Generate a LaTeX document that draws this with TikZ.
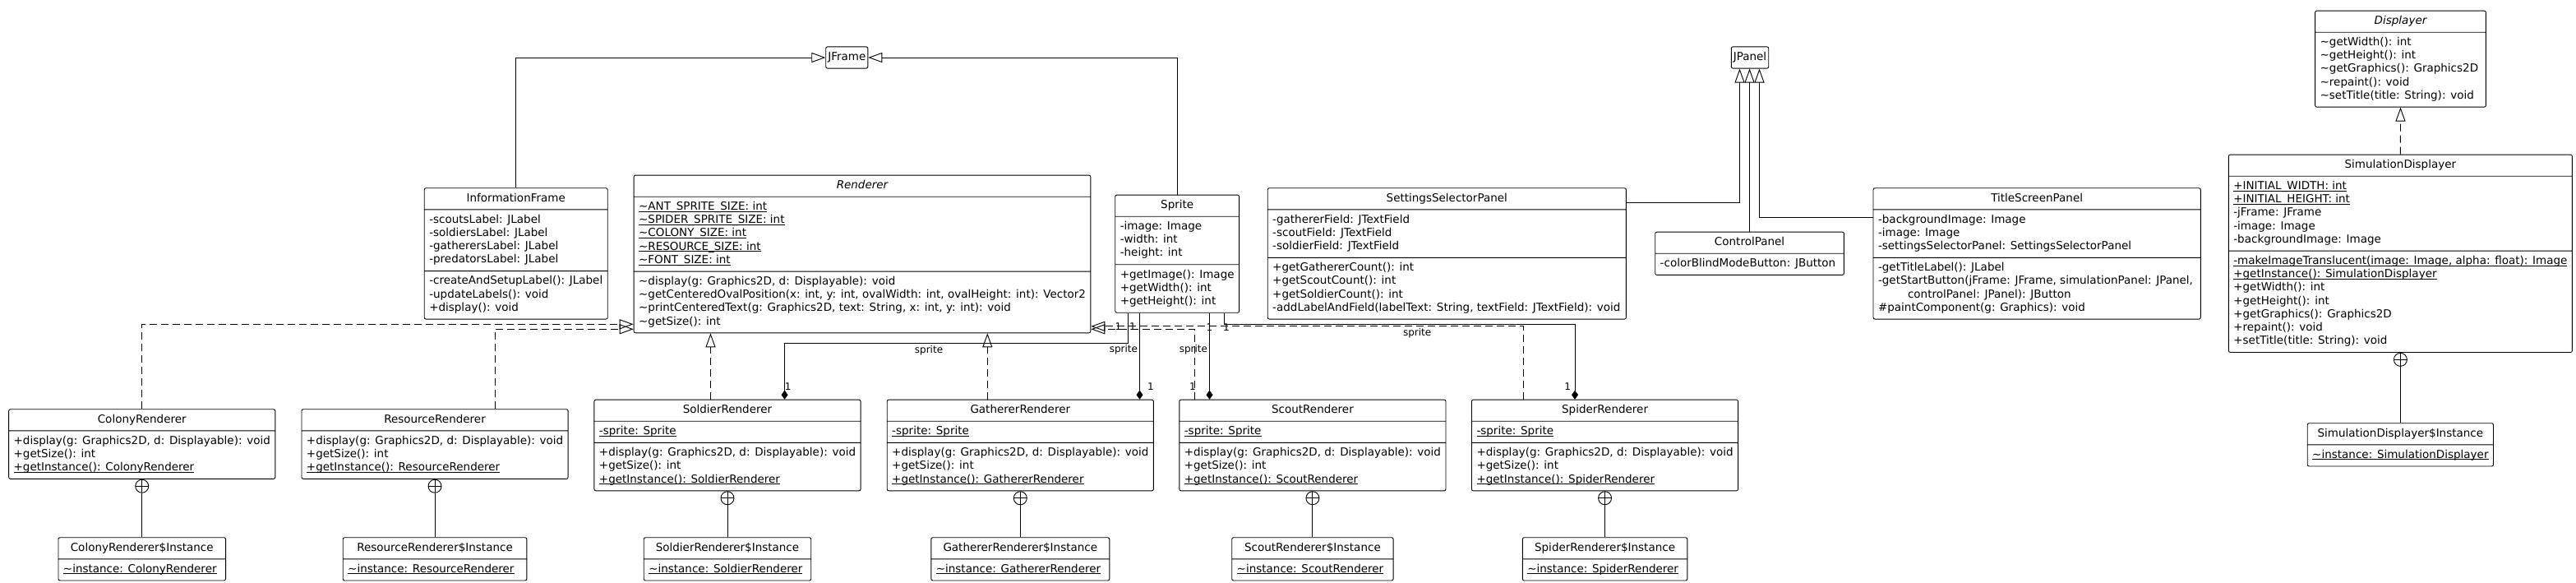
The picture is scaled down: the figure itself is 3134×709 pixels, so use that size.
\documentclass[tikz,border=0pt]{standalone}
\usepackage{fontspec}
\setmainfont{DejaVu Sans}
\usetikzlibrary{
  arrows.meta,
  shapes.multipart,
  positioning
}
\newcommand{\umlfont}{\fontsize{13.5pt}{16.2pt}\selectfont}
\newcommand{\lblfont}{\fontsize{12pt}{14pt}\selectfont}
\newcommand{\members}[1]{\begin{tabular}{@{}l@{}}#1\end{tabular}}
\newcommand{\umlstatic}[1]{$\underline{\smash{\hbox{#1}}}$}
\newcommand{\pk}{\textasciitilde}
\tikzset{
  umlclass/.style={
    rectangle split, rectangle split parts=3,
    rectangle split part align={center,left,left},
    draw, rounded corners=2pt, fill=white, font=\umlfont,
    inner xsep=6pt, inner ysep=4.5pt, anchor=north
  },
  umlclass2/.style={umlclass, rectangle split parts=2},
  umlref/.style={draw, rounded corners=2pt, font=\umlfont, inner xsep=2.5pt, inner ysep=5pt},
  gen/.style={-{Triangle[open, length=17pt, width=12pt]}},
  real/.style={gen, dash pattern=on 9pt off 5pt},
  comp/.style={-{Diamond[length=11pt, width=8pt]}},
  nest/.style={
    circle, draw, minimum size=16pt, inner sep=0pt,
    path picture={\draw (path picture bounding box.north) -- (path picture bounding box.south)
      (path picture bounding box.west) -- (path picture bounding box.east);}
  },
  lbl/.style={font=\lblfont, inner sep=2pt},
  mult/.style={font=\lblfont, inner sep=1pt}
}

\begin{document}
\begin{tikzpicture}[x=1pt, y=-1pt, line width=0.9pt]
  \useasboundingbox[fill=white] (0,0) rectangle (3134,709);

  \node[umlref] (jframe) at (1030.3,70) {\strut JFrame};
  \node[umlref] (jpanel) at (2129,70) {\strut JPanel};

  \node[umlclass, minimum width=222.7pt] (info) at (627.75,228.3) {\strut InformationFrame%
    \nodepart{two}\members{-scoutsLabel: JLabel\\-soldiersLabel: JLabel\\-gatherersLabel: JLabel\\-predatorsLabel: JLabel}%
    \nodepart{three}\members{-createAndSetupLabel(): JLabel\\-updateLabels(): void\\+display(): void}};
  \node[umlclass, minimum width=548.4pt] (rend) at (1049,212.7) {\strut\itshape Renderer%
    \nodepart{two}\members{\umlstatic{\pk ANT\_SPRITE\_SIZE: int}\\\umlstatic{\pk SPIDER\_SPRITE\_SIZE: int}\\\umlstatic{\pk COLONY\_SIZE: int}\\\umlstatic{\pk RESOURCE\_SIZE: int}\\\umlstatic{\pk FONT\_SIZE: int}}%
    \nodepart{three}\members{\pk display(g: Graphics2D, d: Displayable): void\\\pk getCenteredOvalPosition(x: int, y: int, ovalWidth: int, ovalHeight: int): Vector2\\\pk printCenteredText(g: Graphics2D, text: String, x: int, y: int): void\\\pk getSize(): int}};
  \node[umlclass, minimum width=150.4pt] (sprite) at (1432.2,236.7) {\strut Sprite%
    \nodepart{two}\members{-image: Image\\-width: int\\-height: int}%
    \nodepart{three}\members{+getImage(): Image\\+getWidth(): int\\+getHeight(): int}};
  \node[umlclass, minimum width=436.2pt] (ssp) at (1760.3,228.3) {\strut SettingsSelectorPanel%
    \nodepart{two}\members{-gathererField: JTextField\\-scoutField: JTextField\\-soldierField: JTextField}%
    \nodepart{three}\members{+getGathererCount(): int\\+getScoutCount(): int\\+getSoldierCount(): int\\-addLabelAndField(labelText: String, textField: JTextField): void}};
  \node[umlclass2, minimum width=229.7pt] (cp) at (2128.55,281.7) {\strut ControlPanel%
    \nodepart{two}\members{-colorBlindModeButton: JButton}};
  \node[umlclass, minimum width=398.3pt] (tsp) at (2478.15,228.3) {\strut TitleScreenPanel%
    \nodepart{two}\members{-backgroundImage: Image\\-image: Image\\-settingsSelectorPanel: SettingsSelectorPanel}%
    \nodepart{three}\members{-getTitleLabel(): JLabel\\-getStartButton(jFrame: JFrame, simulationPanel: JPanel,\\\hspace*{36pt}controlPanel: JPanel): JButton\\\#paintComponent(g: Graphics): void}};
  \node[umlclass2, minimum width=207.8pt] (disp) at (2920.5,12.7) {\strut\itshape Displayer%
    \nodepart{two}\members{\pk getWidth(): int\\\pk getHeight(): int\\\pk getGraphics(): Graphics2D\\\pk repaint(): void\\\pk setTitle(title: String): void}};
  \node[umlclass, minimum width=415.9pt] (sd) at (2920.35,187.7) {\strut SimulationDisplayer%
    \nodepart{two}\members{\umlstatic{+INITIAL\_WIDTH: int}\\\umlstatic{+INITIAL\_HEIGHT: int}\\-jFrame: JFrame\\-image: Image\\-backgroundImage: Image}%
    \nodepart{three}\members{\umlstatic{-makeImageTranslucent(image: Image, alpha: float): Image}\\\umlstatic{+getInstance(): SimulationDisplayer}\\+getWidth(): int\\+getHeight(): int\\+getGraphics(): Graphics2D\\+repaint(): void\\+setTitle(title: String): void}};
  \node[umlclass2, minimum width=226pt] (sdi) at (2920.35,514.3) {\strut SimulationDisplayer\$Instance%
    \nodepart{two}\members{\umlstatic{\pk instance: SimulationDisplayer}}};

  \node[umlclass2, minimum width=320.5pt] (cr) at (172.75,497.3) {\strut ColonyRenderer%
    \nodepart{two}\members{+display(g: Graphics2D, d: Displayable): void\\+getSize(): int\\\umlstatic{+getInstance(): ColonyRenderer}}};
  \node[umlclass2, minimum width=320.5pt] (rr) at (529.05,497.3) {\strut ResourceRenderer%
    \nodepart{two}\members{+display(g: Graphics2D, d: Displayable): void\\+getSize(): int\\\umlstatic{+getInstance(): ResourceRenderer}}};
  \node[umlclass, minimum width=320pt] (sr) at (885,485.7) {\strut SoldierRenderer%
    \nodepart{two}\members{\umlstatic{-sprite: Sprite}}%
    \nodepart{three}\members{+display(g: Graphics2D, d: Displayable): void\\+getSize(): int\\\umlstatic{+getInstance(): SoldierRenderer}}};
  \node[umlclass, minimum width=320.4pt] (gr) at (1241.3,485.7) {\strut GathererRenderer%
    \nodepart{two}\members{\umlstatic{-sprite: Sprite}}%
    \nodepart{three}\members{+display(g: Graphics2D, d: Displayable): void\\+getSize(): int\\\umlstatic{+getInstance(): GathererRenderer}}};
  \node[umlclass, minimum width=320.4pt] (scr) at (1596.9,485.7) {\strut ScoutRenderer%
    \nodepart{two}\members{\umlstatic{-sprite: Sprite}}%
    \nodepart{three}\members{+display(g: Graphics2D, d: Displayable): void\\+getSize(): int\\\umlstatic{+getInstance(): ScoutRenderer}}};
  \node[umlclass, minimum width=320.5pt] (spr) at (1952.55,485.7) {\strut SpiderRenderer%
    \nodepart{two}\members{\umlstatic{-sprite: Sprite}}%
    \nodepart{three}\members{+display(g: Graphics2D, d: Displayable): void\\+getSize(): int\\\umlstatic{+getInstance(): SpiderRenderer}}};

  \node[umlclass2, minimum width=203.6pt] (cri) at (172.75,653.3) {\strut ColonyRenderer\$Instance%
    \nodepart{two}\members{\umlstatic{\pk instance: ColonyRenderer}}};
  \node[umlclass2, minimum width=223.7pt] (rri) at (529.05,653.3) {\strut ResourceRenderer\$Instance%
    \nodepart{two}\members{\umlstatic{\pk instance: ResourceRenderer}}};
  \node[umlclass2, minimum width=203.5pt] (sri) at (885,653.3) {\strut SoldierRenderer\$Instance%
    \nodepart{two}\members{\umlstatic{\pk instance: SoldierRenderer}}};
  \node[umlclass2, minimum width=217pt] (gri) at (1241.3,653.3) {\strut GathererRenderer\$Instance%
    \nodepart{two}\members{\umlstatic{\pk instance: GathererRenderer}}};
  \node[umlclass2, minimum width=196.4pt] (scri) at (1596.9,653.3) {\strut ScoutRenderer\$Instance%
    \nodepart{two}\members{\umlstatic{\pk instance: ScoutRenderer}}};
  \node[umlclass2, minimum width=200.5pt] (spri) at (1952.55,653.3) {\strut SpiderRenderer\$Instance%
    \nodepart{two}\members{\umlstatic{\pk instance: SpiderRenderer}}};

  \node[nest, below=0pt of cr] (cr-n) {};
  \node[nest, below=0pt of rr] (rr-n) {};
  \node[nest, below=0pt of sr] (sr-n) {};
  \node[nest, below=0pt of gr] (gr-n) {};
  \node[nest, below=0pt of scr] (scr-n) {};
  \node[nest, below=0pt of spr] (spr-n) {};
  \node[nest, below=0pt of sd] (sd-n) {};
  \draw (cr-n.south) -- (cri.north);
  \draw (rr-n.south) -- (rri.north);
  \draw (sr-n.south) -- (sri.north);
  \draw (gr-n.south) -- (gri.north);
  \draw (scr-n.south) -- (scri.north);
  \draw (spr-n.south) -- (spri.north);
  \draw (sd-n.south) -- (sdi.north);

  \draw[gen] (info.north) |- (jframe.west);
  \draw[gen] (sprite.north) |- (jframe.east);
  \draw[gen] ([yshift=-17.7pt]ssp.north east) -| ([xshift=-12.5pt]jpanel.south);
  \draw[gen] (cp.north) -- (cp.north |- jpanel.south);
  \draw[gen] ([yshift=-36pt]tsp.north west) -| ([xshift=11.5pt]jpanel.south);
  \draw[real] (sd.north) -- (disp.south);

  \draw[real] (cr.north) |- ([yshift=11pt]rend.south west);
  \draw[real] ([xshift=73.2pt]rr.north) |- ([yshift=5pt]rend.south west);
  \draw[real] ([xshift=-20.5pt]sr.north) -- ([xshift=-20.5pt]sr.north |- rend.south);
  \draw[real] ([xshift=-40pt]gr.north) -- ([xshift=-40pt]gr.north |- rend.south);
  \draw[real] ([xshift=-143.3pt]scr.north) |- ([yshift=5pt]rend.south east);
  \draw[real] ([xshift=-99pt]spr.north) |- ([yshift=8.5pt]rend.south east);

  \draw[comp] ([xshift=-59.9pt]sprite.south) node[mult, xshift=-12pt, yshift=-16pt] {1} -- ++(0,37)
    -| node[lbl, below, pos=.29] {sprite} node[mult, pos=1, xshift=4pt, yshift=16pt] {1} ([xshift=69.6pt]sr.north);
  \draw[comp] ([xshift=-45.7pt]sprite.south) node[mult, xshift=-8.5pt, yshift=-16pt] {1}
    -- node[lbl, left, pos=.42] {sprite} node[mult, pos=1, xshift=13.5pt, yshift=16pt] {1} ([xshift=-45.7pt]sprite.south |- gr.north);
  \draw[comp] ([xshift=39.3pt]sprite.south) node[mult, yshift=-17pt] {1}
    -- node[lbl, left, pos=.42] {sprite} node[mult, pos=1, xshift=-20.5pt, yshift=16pt] {1} ([xshift=39.3pt]sprite.south |- scr.north);
  \draw[comp] ([xshift=57.3pt]sprite.south) -- node[mult, pos=0, xshift=2.5pt, yshift=-17pt] {1} ++(0,13.5)
    -| node[lbl, below, pos=.275, yshift=-3pt] {sprite} node[mult, pos=1, xshift=-9pt, yshift=16pt] {1} ([xshift=-36.5pt]spr.north);
\end{tikzpicture}
\end{document}
